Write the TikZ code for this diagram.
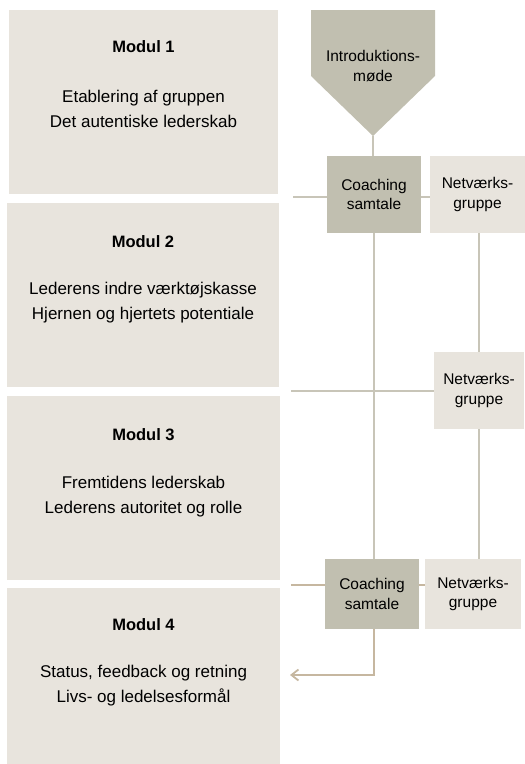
\documentclass[tikz,border=0pt]{standalone}
\usepackage{fontspec}
\setmainfont{Liberation Sans}
\usetikzlibrary{positioning}
\usetikzlibrary{arrows.meta}
\definecolor{modbg}{HTML}{E8E4DD}
\definecolor{darkbg}{HTML}{C1BFB0}
\definecolor{linegrey}{HTML}{C8C5B8}
\definecolor{linetan}{HTML}{C6B7A0}
\tikzset{modp/.style={
  x=1pt,
  y=-1pt,
}}
\tikzset{modbox/.style={
  fill=modbg,
  shape=rectangle,
  inner sep=0pt,
  minimum width=272pt,
  minimum height=184pt,
}}
\tikzset{modtitle/.style={
  font=\fontsize{16.5}{20}\selectfont\bfseries,
  inner sep=0pt,
}}
\tikzset{modtext/.style={
  font=\fontsize{17}{25}\selectfont,
  align=center,
  inner sep=0pt,
}}
\tikzset{stepbox/.style={
  shape=rectangle,
  inner sep=0pt,
  minimum width=94pt,
  minimum height=77pt,
  align=center,
  font=\fontsize{15.5}{19.5}\selectfont,
}}
\tikzset{coachn/.style={stepbox,fill=darkbg}}
\tikzset{netn/.style={stepbox,fill=modbg}}
\tikzset{conn/.style={draw=linegrey,line width=1.8pt}}
\tikzset{tconn/.style={draw=linetan,line width=1.8pt}}

\begin{document}
\begin{tikzpicture}[modp]
    \useasboundingbox (0,0) rectangle (525,764);
    % Modules
    \node[modbox,minimum width=269pt] (mod1) at (143.5,102) {};
    \node[modbox] (mod2) at (143,295) {};
    \node[modbox,minimum width=273pt] (mod3) at (143.5,488) {};
    \node[modbox,minimum width=273pt,minimum height=176pt] (mod4) at (143.5,676) {};
    \node[modtitle] (mod1title) at ([yshift=-37pt]mod1.north) {Modul 1};
    \node[modtext] (mod1text) at ([yshift=-99.5pt]mod1.north)
      {Etablering af gruppen\\Det autentiske lederskab};
    \node[modtitle] (mod2title) at ([yshift=-39pt]mod2.north) {Modul 2};
    \node[modtext] (mod2text) at ([yshift=-100pt]mod2.north)
      {Lederens indre værktøjskasse\\Hjernen og hjertets potentiale};
    \node[modtitle] (mod3title) at ([yshift=-39pt]mod3.north) {Modul 3};
    \node[modtext] (mod3text) at ([yshift=-100.5pt]mod3.north)
      {Fremtidens lederskab\\Lederens autoritet og rolle};
    \node[modtitle] (mod4title) at ([yshift=-37pt]mod4.north) {Modul 4};
    \node[modtext] (mod4text) at ([yshift=-97.5pt]mod4.north)
      {Status, feedback og retning\\Livs- og ledelsesformål};
    % Introduction
    \fill[darkbg] (311,10) -- (435,10) -- (435,76) -- (373,136)
               -- (311,76) -- cycle;
    \coordinate (introtip) at (373,136);
    \node[align=center,inner sep=0pt,font=\fontsize{15.5}{19.5}\selectfont]
      (intro) at (373,66) {Introduktions-\\møde};
    % Coaching and network
    \node[coachn] (coach1) at (374,194.5) {Coaching\\samtale};
    \node[netn,minimum width=95pt] (net1) at (477.5,194.5) {Netværks-\\gruppe};
    \node[netn,minimum width=90pt] (net2) at (479,390.5) {Netværks-\\gruppe};
    \node[coachn,minimum height=70pt] (coach2) at (372,594) {Coaching\\samtale};
    \node[netn,minimum width=96pt,minimum height=70pt] (net3) at (473,594)
      {Netværks-\\gruppe};
    \coordinate (l1) at (293,197);
    \coordinate (l2) at (291,391);
    \coordinate (l3) at (291,585);
    \coordinate (bend) at (374,675);
    \coordinate (arrowend) at (290,675);
    % Lines
    \draw[conn] (introtip) -- (introtip |- coach1.north);
    \draw[conn] (l1) -- (l1 -| coach1.west);
    \draw[conn] (l1 -| coach1.east) -- (l1 -| net1.west);
    \draw[conn] (coach1.south) -- (coach1.south |- coach2.north);
    \draw[conn] (l2) -- (l2 -| net2.west);
    \draw[conn] (net1.south -| net2.north) -- (net2.north);
    \draw[conn] (net2.south) -- (net2.south |- net3.north);
    \draw[tconn] (l3) -- (l3 -| coach2.west);
    \draw[tconn] (l3 -| coach2.east) -- (l3 -| net3.west);
    \draw[tconn,-{Straight Barb[length=7pt,width=11pt]}]
      (bend |- coach2.south) -- (bend) -- (arrowend);
  \end{tikzpicture}
\end{document}
